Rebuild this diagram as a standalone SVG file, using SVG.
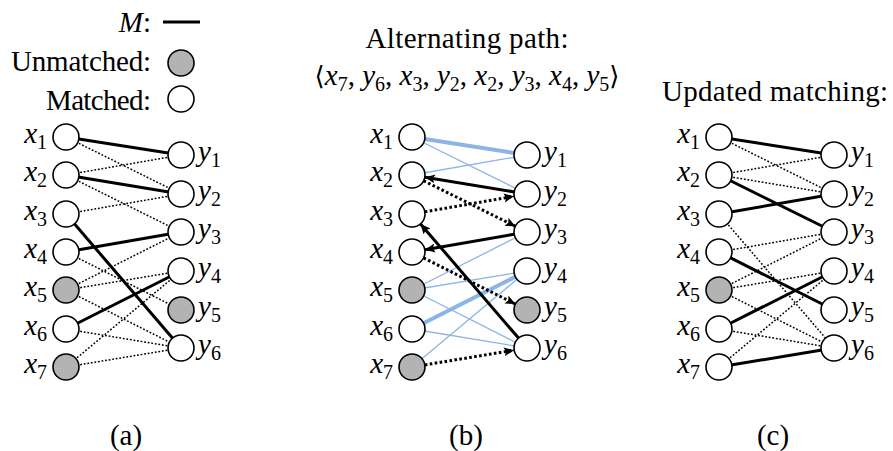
<svg xmlns="http://www.w3.org/2000/svg" width="893" height="451" viewBox="0 0 893 451">
<defs>
<style>
.t{font-family:'Liberation Serif',serif;font-size:29px;fill:#000}
.i{font-style:italic}
.s{font-size:20px;font-style:normal}
.ang{font-family:'DejaVu Serif',serif;font-size:26px}
.n{fill:#fff;stroke:#000;stroke-width:1.6}
.g{fill:#b3b3b3;stroke:#000;stroke-width:1.6}
.m{stroke:#000;stroke-width:3;fill:none}
.d{stroke:#000;stroke-width:1.5;stroke-dasharray:1.8 1.8;fill:none}
.bt{stroke:#8cb4e6;stroke-width:1.3;fill:none}
.bT{stroke:#8cb4e6;stroke-width:4;fill:none}
.pa{stroke:#000;stroke-width:3;fill:none;marker-end:url(#ah)}
.pd{stroke:#000;stroke-width:3;stroke-dasharray:2.6 2.4;fill:none;marker-end:url(#ah)}
</style>
<marker id="ah" markerUnits="userSpaceOnUse" markerWidth="12" markerHeight="10" refX="10" refY="5" orient="auto">
<path d="M0,0.5 L10,5 L0,9.5 L2,5 z" fill="#000"/>
</marker>
</defs>

<g id="legend">
<text class="t" x="151" y="32" text-anchor="end"><tspan class="i">M</tspan>:</text>
<line class="m" x1="163" y1="22" x2="200" y2="22"/>
<text class="t" x="151" y="71" text-anchor="end" textLength="140">Unmatched:</text>
<circle class="g" cx="181" cy="63" r="13"/>
<text class="t" x="151" y="110" text-anchor="end" textLength="105">Matched:</text>
<circle class="n" cx="181" cy="99" r="13"/>
</g>

<g id="titles">
<text class="t" x="467" y="48" text-anchor="middle" textLength="203">Alternating path:</text>
<text class="t" x="467" y="85" text-anchor="middle"><tspan class="ang">⟨</tspan><tspan class="i">x</tspan><tspan class="s" dy="6">7</tspan><tspan dy="-6">, </tspan><tspan class="i">y</tspan><tspan class="s" dy="6">6</tspan><tspan dy="-6">, </tspan><tspan class="i">x</tspan><tspan class="s" dy="6">3</tspan><tspan dy="-6">, </tspan><tspan class="i">y</tspan><tspan class="s" dy="6">2</tspan><tspan dy="-6">, </tspan><tspan class="i">x</tspan><tspan class="s" dy="6">2</tspan><tspan dy="-6">, </tspan><tspan class="i">y</tspan><tspan class="s" dy="6">3</tspan><tspan dy="-6">, </tspan><tspan class="i">x</tspan><tspan class="s" dy="6">4</tspan><tspan dy="-6">, </tspan><tspan class="i">y</tspan><tspan class="s" dy="6">5</tspan><tspan class="ang" dy="-6">⟩</tspan></text>
<text class="t" x="775" y="101" text-anchor="middle" textLength="226">Updated matching:</text>
<text class="t" x="126" y="445" text-anchor="middle">(a)</text>
<text class="t" x="466" y="445" text-anchor="middle">(b)</text>
<text class="t" x="773" y="445" text-anchor="middle">(c)</text>
</g>

<g id="edges-a">
<line class="d" x1="66" y1="137" x2="181" y2="194"/>
<line class="d" x1="66" y1="175" x2="181" y2="155"/>
<line class="d" x1="66" y1="175" x2="181" y2="232"/>
<line class="d" x1="66" y1="214" x2="181" y2="194"/>
<line class="d" x1="66" y1="252" x2="181" y2="310"/>
<line class="d" x1="66" y1="290" x2="181" y2="232"/>
<line class="d" x1="66" y1="290" x2="181" y2="271"/>
<line class="d" x1="66" y1="290" x2="181" y2="348"/>
<line class="d" x1="66" y1="329" x2="181" y2="348"/>
<line class="d" x1="66" y1="367" x2="181" y2="271"/>
<line class="d" x1="66" y1="367" x2="181" y2="348"/>
<line class="m" x1="66" y1="137" x2="181" y2="155"/>
<line class="m" x1="66" y1="175" x2="181" y2="194"/>
<line class="m" x1="66" y1="214" x2="181" y2="348"/>
<line class="m" x1="66" y1="252" x2="181" y2="232"/>
<line class="m" x1="66" y1="329" x2="181" y2="271"/>
</g>
<g id="nodes-a">
<g id="a-x1"><circle class="n" cx="66" cy="137" r="13"/><text class="t" x="47" y="143" text-anchor="end"><tspan class="i">x</tspan><tspan class="s" dy="6">1</tspan></text></g>
<g id="a-x2"><circle class="n" cx="66" cy="175" r="13"/><text class="t" x="47" y="181" text-anchor="end"><tspan class="i">x</tspan><tspan class="s" dy="6">2</tspan></text></g>
<g id="a-x3"><circle class="n" cx="66" cy="214" r="13"/><text class="t" x="47" y="220" text-anchor="end"><tspan class="i">x</tspan><tspan class="s" dy="6">3</tspan></text></g>
<g id="a-x4"><circle class="n" cx="66" cy="252" r="13"/><text class="t" x="47" y="258" text-anchor="end"><tspan class="i">x</tspan><tspan class="s" dy="6">4</tspan></text></g>
<g id="a-x5"><circle class="g" cx="66" cy="290" r="13"/><text class="t" x="47" y="296" text-anchor="end"><tspan class="i">x</tspan><tspan class="s" dy="6">5</tspan></text></g>
<g id="a-x6"><circle class="n" cx="66" cy="329" r="13"/><text class="t" x="47" y="335" text-anchor="end"><tspan class="i">x</tspan><tspan class="s" dy="6">6</tspan></text></g>
<g id="a-x7"><circle class="g" cx="66" cy="367" r="13"/><text class="t" x="47" y="373" text-anchor="end"><tspan class="i">x</tspan><tspan class="s" dy="6">7</tspan></text></g>
<g id="a-y1"><circle class="n" cx="181" cy="155" r="13"/><text class="t" x="198" y="161"><tspan class="i">y</tspan><tspan class="s" dy="6">1</tspan></text></g>
<g id="a-y2"><circle class="n" cx="181" cy="194" r="13"/><text class="t" x="198" y="200"><tspan class="i">y</tspan><tspan class="s" dy="6">2</tspan></text></g>
<g id="a-y3"><circle class="n" cx="181" cy="232" r="13"/><text class="t" x="198" y="238"><tspan class="i">y</tspan><tspan class="s" dy="6">3</tspan></text></g>
<g id="a-y4"><circle class="n" cx="181" cy="271" r="13"/><text class="t" x="198" y="277"><tspan class="i">y</tspan><tspan class="s" dy="6">4</tspan></text></g>
<g id="a-y5"><circle class="g" cx="181" cy="310" r="13"/><text class="t" x="198" y="316"><tspan class="i">y</tspan><tspan class="s" dy="6">5</tspan></text></g>
<g id="a-y6"><circle class="n" cx="181" cy="348" r="13"/><text class="t" x="198" y="354"><tspan class="i">y</tspan><tspan class="s" dy="6">6</tspan></text></g>
</g>

<g id="edges-b">
<line class="bt" x1="412" y1="137" x2="527" y2="194"/>
<line class="bt" x1="412" y1="175" x2="527" y2="155"/>
<line class="bt" x1="412" y1="290" x2="527" y2="232"/>
<line class="bt" x1="412" y1="290" x2="527" y2="271"/>
<line class="bt" x1="412" y1="290" x2="527" y2="348"/>
<line class="bt" x1="412" y1="329" x2="527" y2="348"/>
<line class="bt" x1="412" y1="367" x2="527" y2="271"/>
<line class="bT" x1="412" y1="137" x2="527" y2="155"/>
<line class="bT" x1="412" y1="329" x2="527" y2="271"/>
<line class="pd" x1="424.8" y1="364.9" x2="514" y2="350.2"/>
<line class="pa" x1="518.5" y1="338.1" x2="420.5" y2="223.9"/>
<line class="pd" x1="424.8" y1="211.8" x2="514" y2="196.3"/>
<line class="pa" x1="514.2" y1="191.9" x2="425" y2="177.2"/>
<line class="pd" x1="423.6" y1="180.8" x2="515.4" y2="226.3"/>
<line class="pa" x1="514.2" y1="234.2" x2="425" y2="249.7"/>
<line class="pd" x1="423.6" y1="257.9" x2="515.4" y2="304.1"/>
</g>
<g id="nodes-b">
<g id="b-x1"><circle class="n" cx="412" cy="137" r="13"/><text class="t" x="393" y="143" text-anchor="end"><tspan class="i">x</tspan><tspan class="s" dy="6">1</tspan></text></g>
<g id="b-x2"><circle class="n" cx="412" cy="175" r="13"/><text class="t" x="393" y="181" text-anchor="end"><tspan class="i">x</tspan><tspan class="s" dy="6">2</tspan></text></g>
<g id="b-x3"><circle class="n" cx="412" cy="214" r="13"/><text class="t" x="393" y="220" text-anchor="end"><tspan class="i">x</tspan><tspan class="s" dy="6">3</tspan></text></g>
<g id="b-x4"><circle class="n" cx="412" cy="252" r="13"/><text class="t" x="393" y="258" text-anchor="end"><tspan class="i">x</tspan><tspan class="s" dy="6">4</tspan></text></g>
<g id="b-x5"><circle class="g" cx="412" cy="290" r="13"/><text class="t" x="393" y="296" text-anchor="end"><tspan class="i">x</tspan><tspan class="s" dy="6">5</tspan></text></g>
<g id="b-x6"><circle class="n" cx="412" cy="329" r="13"/><text class="t" x="393" y="335" text-anchor="end"><tspan class="i">x</tspan><tspan class="s" dy="6">6</tspan></text></g>
<g id="b-x7"><circle class="g" cx="412" cy="367" r="13"/><text class="t" x="393" y="373" text-anchor="end"><tspan class="i">x</tspan><tspan class="s" dy="6">7</tspan></text></g>
<g id="b-y1"><circle class="n" cx="527" cy="155" r="13"/><text class="t" x="544" y="161"><tspan class="i">y</tspan><tspan class="s" dy="6">1</tspan></text></g>
<g id="b-y2"><circle class="n" cx="527" cy="194" r="13"/><text class="t" x="544" y="200"><tspan class="i">y</tspan><tspan class="s" dy="6">2</tspan></text></g>
<g id="b-y3"><circle class="n" cx="527" cy="232" r="13"/><text class="t" x="544" y="238"><tspan class="i">y</tspan><tspan class="s" dy="6">3</tspan></text></g>
<g id="b-y4"><circle class="n" cx="527" cy="271" r="13"/><text class="t" x="544" y="277"><tspan class="i">y</tspan><tspan class="s" dy="6">4</tspan></text></g>
<g id="b-y5"><circle class="g" cx="527" cy="310" r="13"/><text class="t" x="544" y="316"><tspan class="i">y</tspan><tspan class="s" dy="6">5</tspan></text></g>
<g id="b-y6"><circle class="n" cx="527" cy="348" r="13"/><text class="t" x="544" y="354"><tspan class="i">y</tspan><tspan class="s" dy="6">6</tspan></text></g>
</g>

<g id="edges-c">
<line class="d" x1="719" y1="137" x2="834" y2="194"/>
<line class="d" x1="719" y1="175" x2="834" y2="155"/>
<line class="d" x1="719" y1="175" x2="834" y2="194"/>
<line class="d" x1="719" y1="214" x2="834" y2="348"/>
<line class="d" x1="719" y1="252" x2="834" y2="232"/>
<line class="d" x1="719" y1="290" x2="834" y2="232"/>
<line class="d" x1="719" y1="290" x2="834" y2="271"/>
<line class="d" x1="719" y1="290" x2="834" y2="348"/>
<line class="d" x1="719" y1="329" x2="834" y2="348"/>
<line class="d" x1="719" y1="367" x2="834" y2="271"/>
<line class="m" x1="719" y1="137" x2="834" y2="155"/>
<line class="m" x1="719" y1="175" x2="834" y2="232"/>
<line class="m" x1="719" y1="214" x2="834" y2="194"/>
<line class="m" x1="719" y1="252" x2="834" y2="310"/>
<line class="m" x1="719" y1="329" x2="834" y2="271"/>
<line class="m" x1="719" y1="367" x2="834" y2="348"/>
</g>
<g id="nodes-c">
<g id="c-x1"><circle class="n" cx="719" cy="137" r="13"/><text class="t" x="700" y="143" text-anchor="end"><tspan class="i">x</tspan><tspan class="s" dy="6">1</tspan></text></g>
<g id="c-x2"><circle class="n" cx="719" cy="175" r="13"/><text class="t" x="700" y="181" text-anchor="end"><tspan class="i">x</tspan><tspan class="s" dy="6">2</tspan></text></g>
<g id="c-x3"><circle class="n" cx="719" cy="214" r="13"/><text class="t" x="700" y="220" text-anchor="end"><tspan class="i">x</tspan><tspan class="s" dy="6">3</tspan></text></g>
<g id="c-x4"><circle class="n" cx="719" cy="252" r="13"/><text class="t" x="700" y="258" text-anchor="end"><tspan class="i">x</tspan><tspan class="s" dy="6">4</tspan></text></g>
<g id="c-x5"><circle class="g" cx="719" cy="290" r="13"/><text class="t" x="700" y="296" text-anchor="end"><tspan class="i">x</tspan><tspan class="s" dy="6">5</tspan></text></g>
<g id="c-x6"><circle class="n" cx="719" cy="329" r="13"/><text class="t" x="700" y="335" text-anchor="end"><tspan class="i">x</tspan><tspan class="s" dy="6">6</tspan></text></g>
<g id="c-x7"><circle class="n" cx="719" cy="367" r="13"/><text class="t" x="700" y="373" text-anchor="end"><tspan class="i">x</tspan><tspan class="s" dy="6">7</tspan></text></g>
<g id="c-y1"><circle class="n" cx="834" cy="155" r="13"/><text class="t" x="851" y="161"><tspan class="i">y</tspan><tspan class="s" dy="6">1</tspan></text></g>
<g id="c-y2"><circle class="n" cx="834" cy="194" r="13"/><text class="t" x="851" y="200"><tspan class="i">y</tspan><tspan class="s" dy="6">2</tspan></text></g>
<g id="c-y3"><circle class="n" cx="834" cy="232" r="13"/><text class="t" x="851" y="238"><tspan class="i">y</tspan><tspan class="s" dy="6">3</tspan></text></g>
<g id="c-y4"><circle class="n" cx="834" cy="271" r="13"/><text class="t" x="851" y="277"><tspan class="i">y</tspan><tspan class="s" dy="6">4</tspan></text></g>
<g id="c-y5"><circle class="n" cx="834" cy="310" r="13"/><text class="t" x="851" y="316"><tspan class="i">y</tspan><tspan class="s" dy="6">5</tspan></text></g>
<g id="c-y6"><circle class="n" cx="834" cy="348" r="13"/><text class="t" x="851" y="354"><tspan class="i">y</tspan><tspan class="s" dy="6">6</tspan></text></g>
</g>
</svg>
